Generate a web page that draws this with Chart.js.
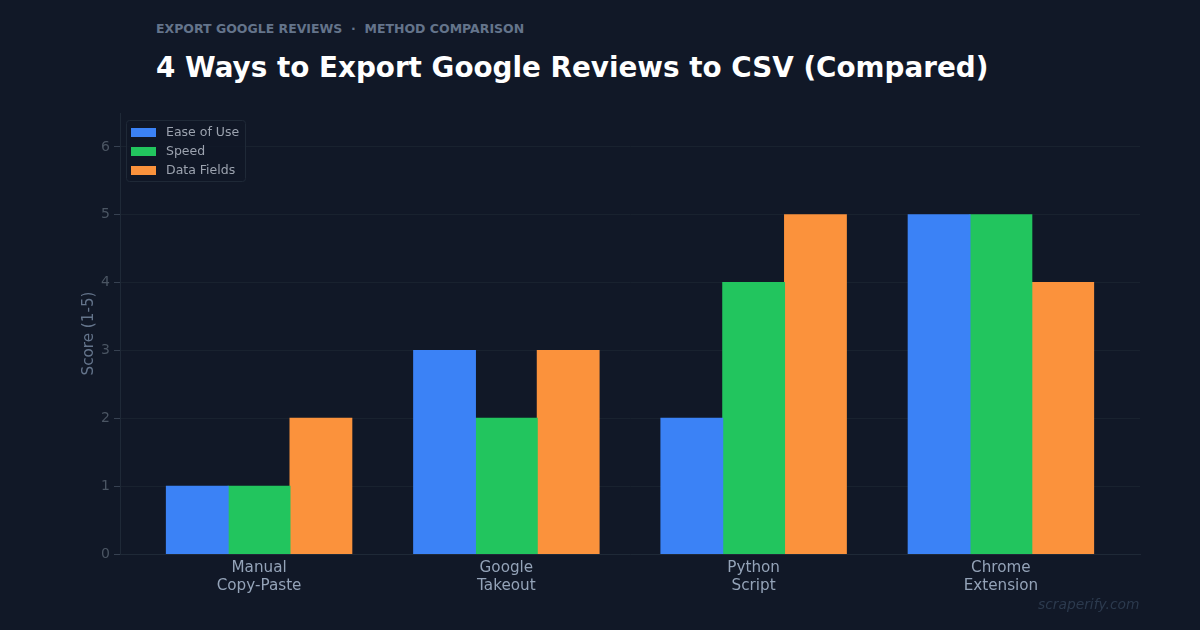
<!DOCTYPE html>
<html>
<head>
<meta charset="utf-8">
<script src="https://cdn.jsdelivr.net/npm/chart.js@4"></script>
<style>
  html, body { margin: 0; padding: 0; background: #111827; }
  body { width: 1200px; height: 630px; position: relative; overflow: hidden; font-family: "DejaVu Sans", sans-serif; }
  #kicker { position: absolute; left: 156px; top: 21px; font-size: 12.5px; font-weight: bold; color: #64748b; white-space: pre; }
  #title { position: absolute; left: 156px; top: 51px; font-size: 27.8px; font-weight: bold; color: #ffffff; }
  #mark { position: absolute; left: 1038px; top: 596px; font-size: 13.8px; font-style: italic; color: #2c3a4e; }
  #wrap { position: absolute; left: 0; top: 0; width: 1200px; height: 630px; }
</style>
</head>
<body>
<div id="kicker">EXPORT GOOGLE REVIEWS  ·  METHOD COMPARISON</div>
<div id="title">4 Ways to Export Google Reviews to CSV (Compared)</div>
<div id="wrap"><canvas id="chart" width="1200" height="630"></canvas></div>
<div id="mark">scraperify.com</div>
<script>
const methods = [['Manual', 'Copy-Paste'], ['Google', 'Takeout'], ['Python', 'Script'], ['Chrome', 'Extension']];
const easeOfUse = [1, 3, 2, 5];
const speed = [1, 2, 4, 5];
const dataFields = [2, 3, 5, 4];
const yTicks = [0, 1, 2, 3, 4, 5, 6];

const seriesNames = ['Ease of Use', 'Speed', 'Data Fields'];
const seriesColors = ['#3b82f6', '#22c55e', '#fb923c'];

function toPoints(values) {
    return values.map((v, i) => ({ x: i, y: v }));
}

// legend drawn inside the plot, top-left, like the original
const insideLegend = {
    id: 'insideLegend',
    afterDatasetsDraw(chart) {
        const ctx = chart.ctx;
        const area = chart.chartArea;
        const x = area.left + 6, y = area.top + 7;
        ctx.save();
        ctx.fillStyle = 'rgba(17, 24, 39, 0.85)';
        ctx.strokeStyle = '#1f2937';
        ctx.lineWidth = 1;
        ctx.beginPath();
        ctx.roundRect(x + 0.5, y + 0.5, 119, 61, 3);
        ctx.fill();
        ctx.stroke();
        ctx.font = '12.5px "DejaVu Sans"';
        ctx.textBaseline = 'middle';
        chart.data.datasets.forEach((ds, i) => {
            const rowY = y + 12 + i * 19;
            ctx.fillStyle = ds.backgroundColor;
            ctx.fillRect(x + 5, rowY - 4, 25, 9);
            ctx.fillStyle = '#9ca3af';
            ctx.fillText(ds.label, x + 40, rowY + 0.5);
        });
        ctx.restore();
    }
};

new Chart(document.getElementById('chart'), {
    type: 'bar',
    data: {
        datasets: [
            { label: seriesNames[0], data: toPoints(easeOfUse), backgroundColor: seriesColors[0] },
            { label: seriesNames[1], data: toPoints(speed), backgroundColor: seriesColors[1] },
            { label: seriesNames[2], data: toPoints(dataFields), backgroundColor: seriesColors[2] }
        ]
    },
    options: {
        responsive: false,
        animation: false,
        layout: { padding: { left: 0, top: 113, right: 60, bottom: 0 } },
        datasets: { bar: { categoryPercentage: 0.75, barPercentage: 1.0, borderWidth: 0, inflateAmount: 0.5 } },
        plugins: {
            legend: { display: false },
            tooltip: { enabled: false }
        },
        scales: {
            x: {
                type: 'linear',
                offset: false,
                min: -0.5625,
                max: 3.5625,
                afterBuildTicks(scale) {
                    scale.ticks = methods.map((m, i) => ({ value: i }));
                },
                afterFit(scale) { scale.height = 76; },
                grid: { display: false, offset: false },
                border: { display: true, color: '#1f2937' },
                ticks: {
                    color: '#94a3b8',
                    font: { family: 'DejaVu Sans', size: 15.2 },
                    padding: -3,
                    maxRotation: 0,
                    autoSkip: false,
                    callback: (v) => methods[v]
                }
            },
            y: {
                min: 0,
                max: 6.5,
                afterBuildTicks(scale) {
                    scale.ticks = yTicks.map(v => ({ value: v }));
                },
                afterFit(scale) { scale.width = 120; },
                grid: { color: '#19222f', tickColor: '#374151', tickLength: 6, drawTicks: true },
                border: { display: true, color: '#1f2937' },
                ticks: {
                    color: '#4b5563',
                    font: { family: 'DejaVu Sans', size: 14 },
                    padding: 4
                },
                title: {
                    display: true,
                    text: 'Score (1-5)',
                    color: '#64748b',
                    font: { family: 'DejaVu Sans', size: 15.2 },
                    padding: { top: 80, bottom: 0 }
                }
            }
        }
    },
    plugins: [insideLegend]
});
</script>
</body>
</html>
